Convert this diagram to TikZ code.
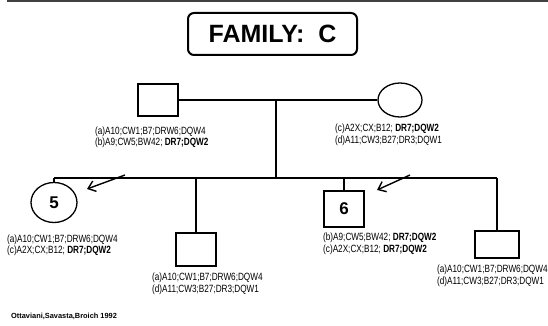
\documentclass[tikz,border=0pt]{standalone}
\usepackage{fontspec}
\setmainfont{Liberation Sans}
\newfontfamily\labfont[FakeStretch=0.78]{Liberation Sans}
\usetikzlibrary{shapes.geometric,arrows.meta}
\begin{document}
\begin{tikzpicture}[x=1pt,y=-1pt,
  ped/.style={line width=1.3pt},
  malebox/.style={draw,rectangle,inner sep=0pt,line width=1.3pt},
  femaleov/.style={draw,ellipse,inner sep=0pt,line width=1.3pt},
  numtxt/.style={font=\bfseries\fontsize{17}{17}\selectfont},
  lab/.style={anchor=north west,inner sep=0pt,align=left,font=\labfont\fontsize{10.5}{11.5}\selectfont},
  pointer/.style={line width=1.4pt,-{Straight Barb[length=7pt,width=11pt,line width=1.4pt]}}
]
\fill[white] (0,0) rectangle (548,326);
\useasboundingbox (0,0) rectangle (548,326);
% top border
\draw[line width=2pt,black!75] (7,1) -- (548,1);
% title
\node[draw,rounded corners=6pt,line width=2pt,minimum width=169pt,minimum height=42pt,inner sep=0pt,
  font=\bfseries\fontsize{25}{25}\selectfont] (title) at (272.5,34) {FAMILY:\ \ C};
% parents
\node[malebox,minimum width=40pt,minimum height=32pt] (fa) at (158,100) {};
\node[femaleov,minimum width=44pt,minimum height=34pt] (mo) at (400,100) {};
\draw[ped] (fa.east) -- (mo.west);
\coordinate (m) at (276,100);
\coordinate (s) at (276,178);
\draw[ped] (m) -- (s);
\coordinate (sibL) at (54,178);
\coordinate (sibR) at (497,178);
\draw[ped] (sibL) -- (sibR);
% children
\node[femaleov,minimum width=46pt,minimum height=40pt,numtxt] (c1) at (54,202.5) {5};
\node[malebox,minimum width=40pt,minimum height=33pt] (c2) at (196,249.5) {};
\node[malebox,minimum width=40pt,minimum height=36pt,numtxt] (c3) at (344,209) {6};
\node[malebox,minimum width=44pt,minimum height=27pt] (c4) at (497,244.5) {};
\draw[ped] (c1.north) -- (c1.north |- s);
\draw[ped] (c2.north) -- (c2.north |- s);
\draw[ped] (c3.north) -- (c3.north |- s);
\draw[ped] (c4.north) -- (c4.north |- s);
% arrows
\coordinate (a1s) at (125,175);
\coordinate (a1e) at (87,189);
\coordinate (a2s) at (410,175);
\coordinate (a2e) at (377,190);
\draw[pointer] (a1s) -- (a1e);
\draw[pointer] (a2s) -- (a2e);
% labels
\node[lab] (lfa) at (95,126.5) {(a)A10;CW1;B7;DRW6;DQW4\\(b)A9;CW5;BW42; \textbf{DR7;DQW2}};
\node[lab] (lmo) at (335,124) {(c)A2X;CX;B12; \textbf{DR7;DQW2}\\(d)A11;CW3;B27;DR3;DQW1};
\node[lab] (lc1) at (7,234.5) {(a)A10;CW1;B7;DRW6;DQW4\\(c)A2X;CX;B12; \textbf{DR7;DQW2}};
\node[lab] (lc2) at (152,273) {(a)A10;CW1;B7;DRW6;DQW4\\(d)A11;CW3;B27;DR3;DQW1};
\node[lab] (lc3) at (323,233) {(b)A9;CW5;BW42; \textbf{DR7;DQW2}\\(c)A2X;CX;B12; \textbf{DR7;DQW2}};
\node[lab] (lc4) at (437,265) {(a)A10;CW1;B7;DRW6;DQW4\\(d)A11;CW3;B27;DR3;DQW1};
% footer
\node[anchor=west,inner sep=0pt,font=\bfseries\fontsize{7.4}{8}\selectfont] (foot) at (11,316) {Ottaviani,Savasta,Broich 1992};
\end{tikzpicture}
\end{document}
